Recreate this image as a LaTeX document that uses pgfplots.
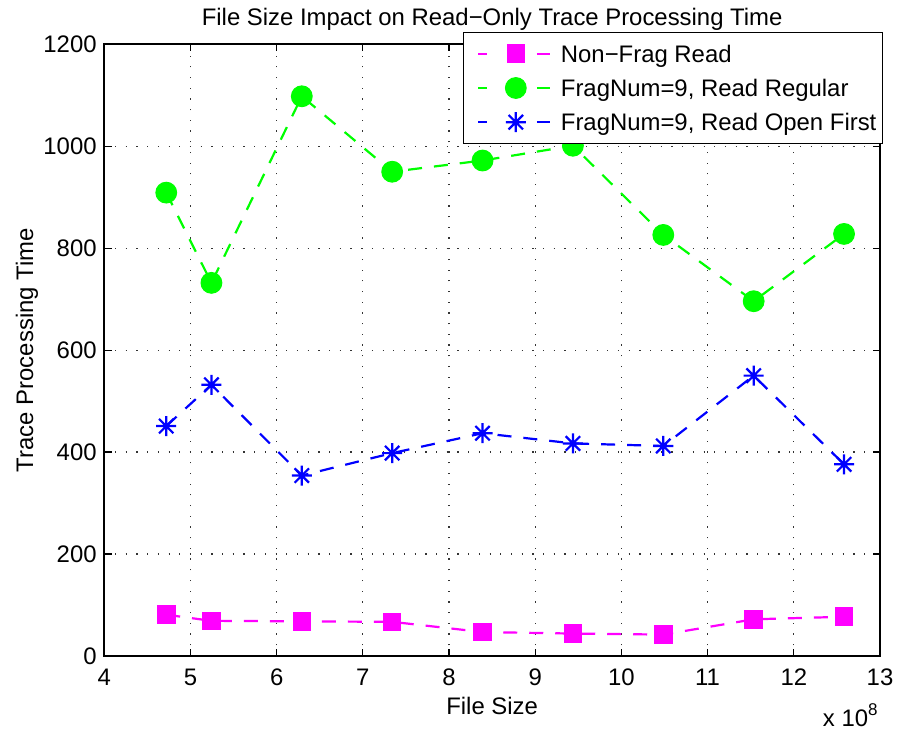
\documentclass[border=0pt]{standalone}
\usepackage{pgfplots}
\pgfplotsset{compat=1.18}
\usepackage{fontspec}
\setmainfont{Liberation Sans}

\definecolor{mmagenta}{rgb}{1,0,1}
\definecolor{mgreen}{rgb}{0,1,0}
\definecolor{mblue}{rgb}{0,0,1}

% eight-armed asterisk marker
\pgfdeclareplotmark{mstar}{%
  \pgfpathmoveto{\pgfqpoint{0pt}{\pgfplotmarksize}}%
  \pgfpathlineto{\pgfqpoint{0pt}{-\pgfplotmarksize}}%
  \pgfpathmoveto{\pgfqpoint{\pgfplotmarksize}{0pt}}%
  \pgfpathlineto{\pgfqpoint{-\pgfplotmarksize}{0pt}}%
  \pgfpathmoveto{\pgfqpoint{.72\pgfplotmarksize}{.72\pgfplotmarksize}}%
  \pgfpathlineto{\pgfqpoint{-.72\pgfplotmarksize}{-.72\pgfplotmarksize}}%
  \pgfpathmoveto{\pgfqpoint{-.72\pgfplotmarksize}{.72\pgfplotmarksize}}%
  \pgfpathlineto{\pgfqpoint{.72\pgfplotmarksize}{-.72\pgfplotmarksize}}%
  \pgfusepathqstroke}

\begin{document}
\fontsize{11.95pt}{14pt}\selectfont
\begin{tikzpicture}
\useasboundingbox (-52.15pt,-38pt) rectangle (396.35pt,328pt);
\begin{axis}[
  name=main,
  at={(0,0)}, anchor=south west,
  scale only axis, width=387.85pt, height=305.85pt,
  xmin=4e8, xmax=13e8, ymin=0, ymax=1200,
  xtick={4e8,5e8,6e8,7e8,8e8,9e8,10e8,11e8,12e8,13e8},
  xticklabels={4,5,6,7,8,9,10,11,12,13},
  scaled x ticks=false,
  ytick={0,200,400,600,800,1000,1200},
  /pgf/number format/assume math mode=true,
  /pgf/number format/set thousands separator={},
  grid=major,
  major grid style={black!80, line width=0.6pt, dash pattern=on 0.6pt off 4.75pt},
  axis line style={line width=1pt},
  tick align=inside, tick pos=both,
  major tick length=3.6pt,
  tick style={black, line width=0.6pt},
  xticklabel style={anchor=base, yshift=-14.5pt, inner sep=0pt},
  yticklabel style={anchor=east, inner sep=0pt, xshift=-3.65pt},
  title={File Size Impact on Read−Only Trace Processing Time},
  title style={at={(axis description cs:0.5,1)}, anchor=base, yshift=3.15pt, inner sep=0pt},
  xlabel={File Size},
  xlabel style={at={(axis description cs:0.5,0)}, anchor=base, yshift=-29pt, inner sep=0pt},
  ylabel={Trace Processing Time},
  ylabel style={at={(axis description cs:-0.0919,0.5)}, anchor=base, rotate=0, inner sep=0pt},
  legend cell align=left,
  legend style={at={(axis description cs:1,1)}, anchor=north east,
    xshift=1.65pt, yshift=6.3pt, draw=black, line width=0.6pt, fill=white,
    inner xsep=3.15pt, inner ysep=3pt, row sep=1.6pt,
    nodes={inner xsep=0pt, inner ysep=0pt, text height=12pt, text depth=3.5pt},
    /tikz/every odd column/.append style={column sep=4.9pt}},
  legend image code/.code={%
    \path (0pt,0pt);
    \draw[#1, solid, mark=none] (3.85pt,0pt) -- (8.05pt,0pt);
    \draw[#1, solid, mark=none] (33.05pt,0pt) -- (39.65pt,0pt);
    \draw[#1, solid] plot coordinates {(22.55pt,0pt)};
  },
  every axis plot/.append style={line width=1.1pt, dash pattern=on 7pt off 6pt},
]
\addplot[mmagenta, mark=square*, mark size=4.4pt,
  mark options={solid, fill=mmagenta, line width=0.5pt}] coordinates {
  (471859200,81) (524288000,69) (629145600,68) (734003200,67) (838860800,47)
  (943718400,44) (1048576000,42) (1153433600,72) (1258291200,77)};
\addlegendentry{Non−Frag Read}
\addplot[mgreen, mark=*, mark size=5.2pt,
  mark options={solid, fill=mgreen, line width=0.5pt}] coordinates {
  (471859200,909) (524288000,732) (629145600,1098) (734003200,950) (838860800,972)
  (943718400,1001) (1048576000,826) (1153433600,696) (1258291200,828)};
\addlegendentry{FragNum=9, Read Regular}
\addplot[mblue, mark=mstar, mark size=5pt,
  mark options={solid, line width=1.1pt}] coordinates {
  (471859200,451) (524288000,532) (629145600,354) (734003200,398) (838860800,437)
  (943718400,417) (1048576000,412) (1153433600,550) (1258291200,376)};
\addlegendentry{FragNum=9, Read Open First}
\end{axis}
\node[anchor=base east, inner sep=0pt, xshift=-1pt, yshift=-35pt] at (main.south east)
  {x 10\raisebox{0.85ex}{\fontsize{8.5pt}{10pt}\selectfont 8}};
\end{tikzpicture}
\end{document}
